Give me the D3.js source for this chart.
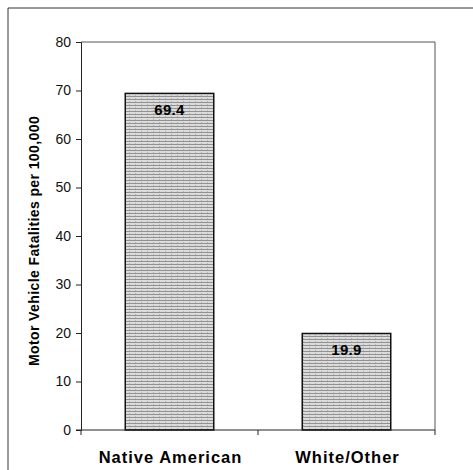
<!DOCTYPE html>
<html><head><meta charset="utf-8">
<script src="https://cdn.jsdelivr.net/npm/d3@7"></script>
<style>body{margin:0;background:#fff;}svg{display:block;}</style>
</head><body>
<script>
const categories = ["Native American", "White/Other"];
const values = [69.4, 19.9];
const valueLabels = ["69.4", "19.9"];
const yTicks = [0, 10, 20, 30, 40, 50, 60, 70, 80];
const yTitle = "Motor Vehicle Fatalities per 100,000";

const W = 473, H = 470;
const FONT = "Arial, 'Liberation Sans', sans-serif";
const svg = d3.select("body").append("svg").attr("width", W).attr("height", H);

// pattern fill resembling scanned hatched gray
const defs = svg.append("defs");
const pat = defs.append("pattern").attr("id", "hatch").attr("patternUnits", "userSpaceOnUse")
  .attr("width", 6).attr("height", 3);
pat.append("rect").attr("width", 6).attr("height", 3).attr("fill", "#dcdcdc");
pat.append("rect").attr("y", 0).attr("width", 6).attr("height", 1).attr("fill", "#929292");
pat.append("rect").attr("x", 3).attr("y", 2).attr("width", 1).attr("height", 1).attr("fill", "#b5b5b5");

// outer frame
svg.append("path").attr("d", `M8,${H+2} V8 H${W+2}`).attr("fill", "none")
  .attr("stroke", "#333").attr("stroke-width", 1);

const m = {left: 81, right: 435, top: 42, bottom: 430};
const x = d3.scaleBand().domain(categories).range([m.left, m.right]).paddingInner(0.5).paddingOuter(0.25);
const y = d3.scaleLinear().domain([0, 80]).range([m.bottom, m.top]);

// plot border (top, right)
svg.append("path").attr("d", `M${m.left},${m.top} H${m.right} V${m.bottom}`)
  .attr("fill", "none").attr("stroke", "#555").attr("stroke-width", 1);

// bars
svg.selectAll("rect.bar").data(values).enter().append("rect").attr("class", "bar")
  .attr("x", (d, i) => x(categories[i])).attr("width", x.bandwidth())
  .attr("y", d => y(d)).attr("height", d => y(0) - y(d))
  .attr("fill", "url(#hatch)").attr("stroke", "#111").attr("stroke-width", 1.5);

// value labels
svg.selectAll("text.val").data(values).enter().append("text").attr("class", "val")
  .attr("x", (d, i) => x(categories[i]) + x.bandwidth() / 2)
  .attr("y", d => y(d) + 22)
  .attr("text-anchor", "middle")
  .style("font-family", FONT).style("font-weight", "bold")
  .style("font-size", "15px").style("letter-spacing", "0.3px").attr("fill", "#000")
  .text((d, i) => valueLabels[i]);

// y axis
const yAxis = svg.append("g").attr("transform", `translate(${m.left},0)`)
  .call(d3.axisLeft(y).tickValues(yTicks).tickSize(5).tickPadding(5));
yAxis.select(".domain").attr("stroke", "#222");
yAxis.selectAll(".tick line").attr("stroke", "#222");
yAxis.selectAll("text").style("font-family", FONT)
  .style("font-size", "14px").attr("fill", "#111");

// x axis with ticks at band boundaries
const xAxisG = svg.append("g");
xAxisG.append("line").attr("x1", m.left - 5).attr("x2", m.right).attr("y1", m.bottom).attr("y2", m.bottom)
  .attr("stroke", "#222");
const bounds = [m.left, (m.left + m.right) / 2, m.right];
xAxisG.selectAll("line.xt").data(bounds).enter().append("line").attr("class", "xt")
  .attr("x1", d => d).attr("x2", d => d).attr("y1", m.bottom).attr("y2", m.bottom + 5)
  .attr("stroke", "#222");
xAxisG.selectAll("text").data(categories).enter().append("text")
  .attr("x", d => x(d) + x.bandwidth() / 2 + 1).attr("y", 463)
  .attr("text-anchor", "middle")
  .style("font-family", FONT).style("font-weight", "bold")
  .style("font-size", "16.5px").style("letter-spacing", "1px").attr("fill", "#000")
  .text(d => d);

// y title
svg.append("text").attr("transform", `translate(39,241) rotate(-90)`)
  .attr("text-anchor", "middle")
  .style("font-family", FONT).style("font-weight", "bold")
  .style("font-size", "14px").style("letter-spacing", "0.4px").attr("fill", "#000")
  .text(yTitle);
</script>
</body></html>
